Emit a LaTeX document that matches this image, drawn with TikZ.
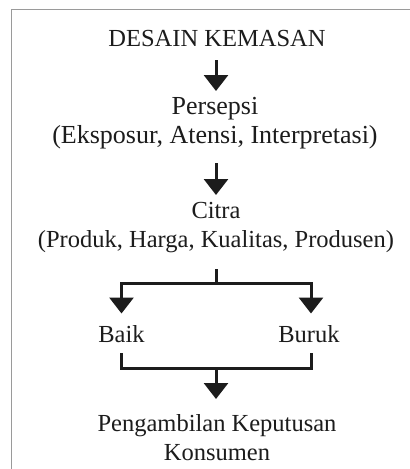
\documentclass[tikz,border=0pt]{standalone}
\usepackage{fontspec}
\setmainfont{Liberation Serif}
\usetikzlibrary{arrows.meta}
\definecolor{txt}{HTML}{1C1C1C}
\definecolor{frm}{HTML}{9A9A9A}
\begin{document}
\begin{tikzpicture}[x=1pt,y=-1pt,
  lbl/.style={text=txt,inner sep=0pt,outer sep=0pt,align=center,
    font=\fontsize{24.5pt}{29pt}\selectfont},
  biglbl/.style={lbl,font=\fontsize{26pt}{28.5pt}\selectfont},
  conn/.style={line width=3pt,draw=txt},
  arr/.style={conn,-{Triangle[width=24pt,length=16pt]}}]
\useasboundingbox (0,0) rectangle (410,469);
\fill[white] (0,0) rectangle (410,469);
\draw[frm,line width=1.3pt] (11.5,469) -- (11.5,9.5) -- (410,9.5);
\node[lbl] (d) at (217,39) {DESAIN KEMASAN};
\node[biglbl] (p) at (215,123) {Persepsi\\(Eksposur, Atensi, Interpretasi)};
\node[lbl] (c) at (216,228) {Citra\\(Produk, Harga, Kualitas, Produsen)};
\node[lbl] (baik) at (121.5,334) {Baik};
\node[lbl] (buruk) at (309,334) {Buruk};
\node[lbl] (k) at (217,438) {Pengambilan Keputusan\\Konsumen};
\coordinate (a1s) at (216,60);
\coordinate (a1e) at (216,91);
\coordinate (a2s) at (216,163);
\coordinate (a2e) at (216,195);
\coordinate (bs) at (216,269);
\coordinate (bm) at (216,283);
\coordinate (bl) at (121.5,283);
\coordinate (brr) at (311,283);
\coordinate (ml) at (121.5,353);
\coordinate (mr) at (311,353);
\coordinate (mm) at (216,368);
\coordinate (me) at (216,399);
\draw[arr] (a1s) -- (a1e);
\draw[arr] (a2s) -- (a2e);
\draw[conn] (bs) -- (bm);
\draw[conn] ([xshift=-1.5pt]bl) -- ([xshift=1.5pt]brr);
\draw[arr] ([yshift=-1.5pt]bl) -- ++(0,29);
\draw[arr] ([yshift=-1.5pt]brr) -- ++(0,29);
\draw[conn] (ml) |- (mm) -| (mr);
\draw[arr] ([yshift=-1.5pt]mm) -- (me);
\end{tikzpicture}
\end{document}
